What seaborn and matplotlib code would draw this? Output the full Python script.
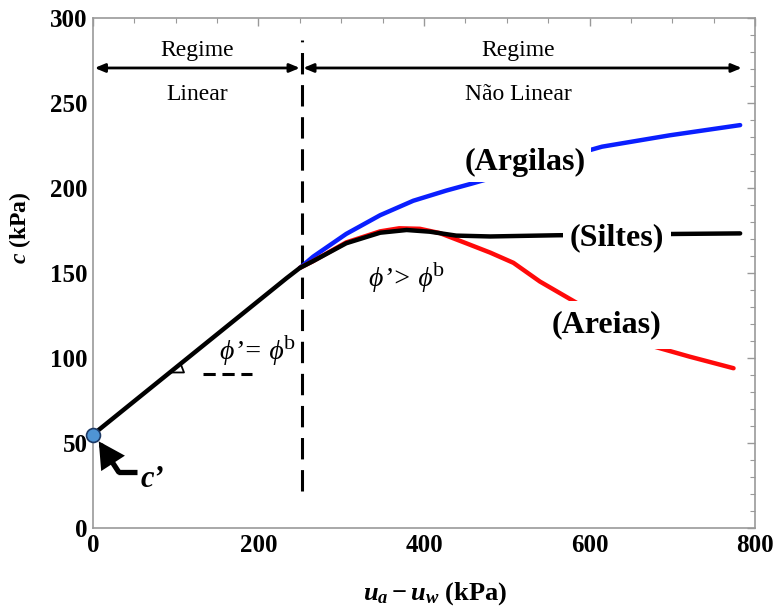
import numpy as np
import pandas as pd
import seaborn as sns
import matplotlib.pyplot as plt
import matplotlib.ticker as mticker

# suction (kPa) vs apparent cohesion (kPa)
siltes_x = [0, 234, 250, 266, 306, 347, 379, 407, 439, 480, 560, 709, 782]
siltes_y = [55, 147, 153, 157, 167.5, 173.7, 175.3, 174.3, 172, 171.5, 172.2, 173, 173.3]

argilas_x = [250, 266, 306, 347, 387, 427, 457, 540, 615, 697, 782]
argilas_y = [153, 159.6, 173, 184, 192.5, 198.5, 202.5, 214, 224.3, 231, 237]

areias_x = [250, 266, 306, 347, 370, 395, 419, 451, 480, 508, 540, 586, 630, 679, 721, 774]
areias_y = [153, 157, 168, 174.5, 176.3, 176, 173.5, 167.5, 162, 156, 145, 132, 119, 106.6, 100.8, 94]

c_eff = 55          # c' intercept
ua_uw_bubble = 252  # boundary between regimes

xticks = [0, 200, 400, 600, 800]
yticks = [0, 50, 100, 150, 200, 250, 300]

sns.set_style("white")
plt.rcParams["font.family"] = ["Liberation Serif", "DejaVu Serif"]
plt.rcParams["text.color"] = "black"
plt.rcParams["axes.labelcolor"] = "black"
plt.rcParams["xtick.labelcolor"] = "black"
plt.rcParams["ytick.labelcolor"] = "black"
plt.rcParams["mathtext.fontset"] = "custom"
plt.rcParams["mathtext.rm"] = "Liberation Serif:bold"
plt.rcParams["mathtext.it"] = "Liberation Serif:bold:italic"
plt.rcParams["mathtext.bf"] = "Liberation Serif:bold"

fig = plt.figure(figsize=(7.78, 6.14), dpi=100)
ax = fig.add_axes([0.1195, 0.140, 0.851, 0.8307])

lw = 3.2
sns.lineplot(x=argilas_x, y=argilas_y, color="#0a1fff", lw=lw, ax=ax, zorder=2)
sns.lineplot(x=areias_x, y=areias_y, color="#ff0a0a", lw=lw, ax=ax, zorder=3)
sns.lineplot(x=siltes_x, y=siltes_y, color="black", lw=lw, ax=ax, zorder=4)
ax.plot([0], [c_eff], "o", ms=10, mfc="#4f94d4", mec="#1d3a66", mew=1.2,
        zorder=6, clip_on=False)

# boundary between regimes
ax.axvline(ua_uw_bubble, ymin=22 / 300, ymax=287 / 300, color="black",
           lw=2.2, ls=(0, (7, 3.5)), zorder=1)

# regime arrows
arr = dict(arrowstyle="<|-|>,head_length=0.6,head_width=0.25", lw=2,
           color="black", shrinkA=0, shrinkB=0)
ax.annotate("", xy=(2, 270.6), xytext=(ua_uw_bubble - 2, 270.6), arrowprops=arr)
ax.annotate("", xy=(ua_uw_bubble + 2, 270.6), xytext=(784, 270.6), arrowprops=arr)
ax.text(126, 281, "Regime", ha="center", va="center", fontsize=17)
ax.text(126, 255, "Linear", ha="center", va="center", fontsize=17)
ax.text(514, 281, "Regime", ha="center", va="center", fontsize=17)
ax.text(514, 255, "Não Linear", ha="center", va="center", fontsize=17)

# curve labels
ax.text(522, 215, "(Argilas)", ha="center", va="center", fontsize=23,
        fontweight="bold",
        bbox=dict(facecolor="white", edgecolor="none", pad=4), zorder=5)
ax.text(633, 171, "(Siltes)", ha="center", va="center", fontsize=23,
        fontweight="bold",
        bbox=dict(facecolor="white", edgecolor="none", pad=5), zorder=5)
ax.text(621, 119.5, "(Areias)", ha="center", va="center", fontsize=23,
        fontweight="bold",
        bbox=dict(facecolor="white", edgecolor="none", pad=7), zorder=5)

# phi labels
t1 = ax.text(192, 103, "ϕ’= ϕ", ha="center", va="center", fontsize=20,
             fontstyle="italic")
ax.annotate("b", xy=(1.0, 0.45), xycoords=t1, ha="left", va="bottom",
            fontsize=16)
t2 = ax.text(372, 146, "ϕ’> ϕ", ha="center", va="center", fontsize=20,
             fontstyle="italic")
ax.annotate("b", xy=(1.0, 0.45), xycoords=t2, ha="left", va="bottom",
            fontsize=16)

# slope marker
ax.plot([92, 110, 106, 92], [91.5, 91.5, 96.5, 91.5], color="black", lw=1.3)
ax.plot([133, 192], [90.6, 90.6], color="black", lw=2.2, ls=(0, (4, 2.2)))

# c' pointer
ax.plot([53, 30], [33, 33], color="black", lw=3.8, solid_capstyle="butt")
ax.annotate("", xy=(7, 51), xytext=(31, 33),
            arrowprops=dict(arrowstyle="-|>,head_length=1.3,head_width=0.7",
                            lw=3.8, color="black", shrinkA=0, shrinkB=0,
                            joinstyle="miter"))
ax.text(57, 28.5, "c’", ha="left", va="center", fontsize=22,
        fontweight="bold", fontstyle="italic")

ax.set_xlim(0, 800)
ax.set_ylim(0, 300)
ax.set_xticks(xticks)
ax.set_yticks(yticks)
ax.xaxis.set_minor_locator(mticker.MultipleLocator(50))
ax.yaxis.set_minor_locator(mticker.MultipleLocator(10))
ax.tick_params(which="both", direction="in", top=True, right=True,
               color="#999999", labelsize=18, pad=4)
ax.tick_params(which="major", length=6, width=1)
ax.tick_params(which="minor", length=3.5, width=0.8)
for lab in ax.get_xticklabels() + ax.get_yticklabels():
    lab.set_fontweight("bold")
for s in ax.spines.values():
    s.set_color("#999999")
    s.set_linewidth(1.2)

ax.set_xlabel(r"$u_a - u_w$ (kPa)", fontsize=19, fontweight="bold")
ax.set_ylabel(r"$c$ (kPa)", fontsize=17, fontweight="bold")
ax.xaxis.set_label_coords(0.517, -0.103)
ax.yaxis.set_label_coords(-0.091, 0.588)

fig.savefig("out.png", dpi=100)
